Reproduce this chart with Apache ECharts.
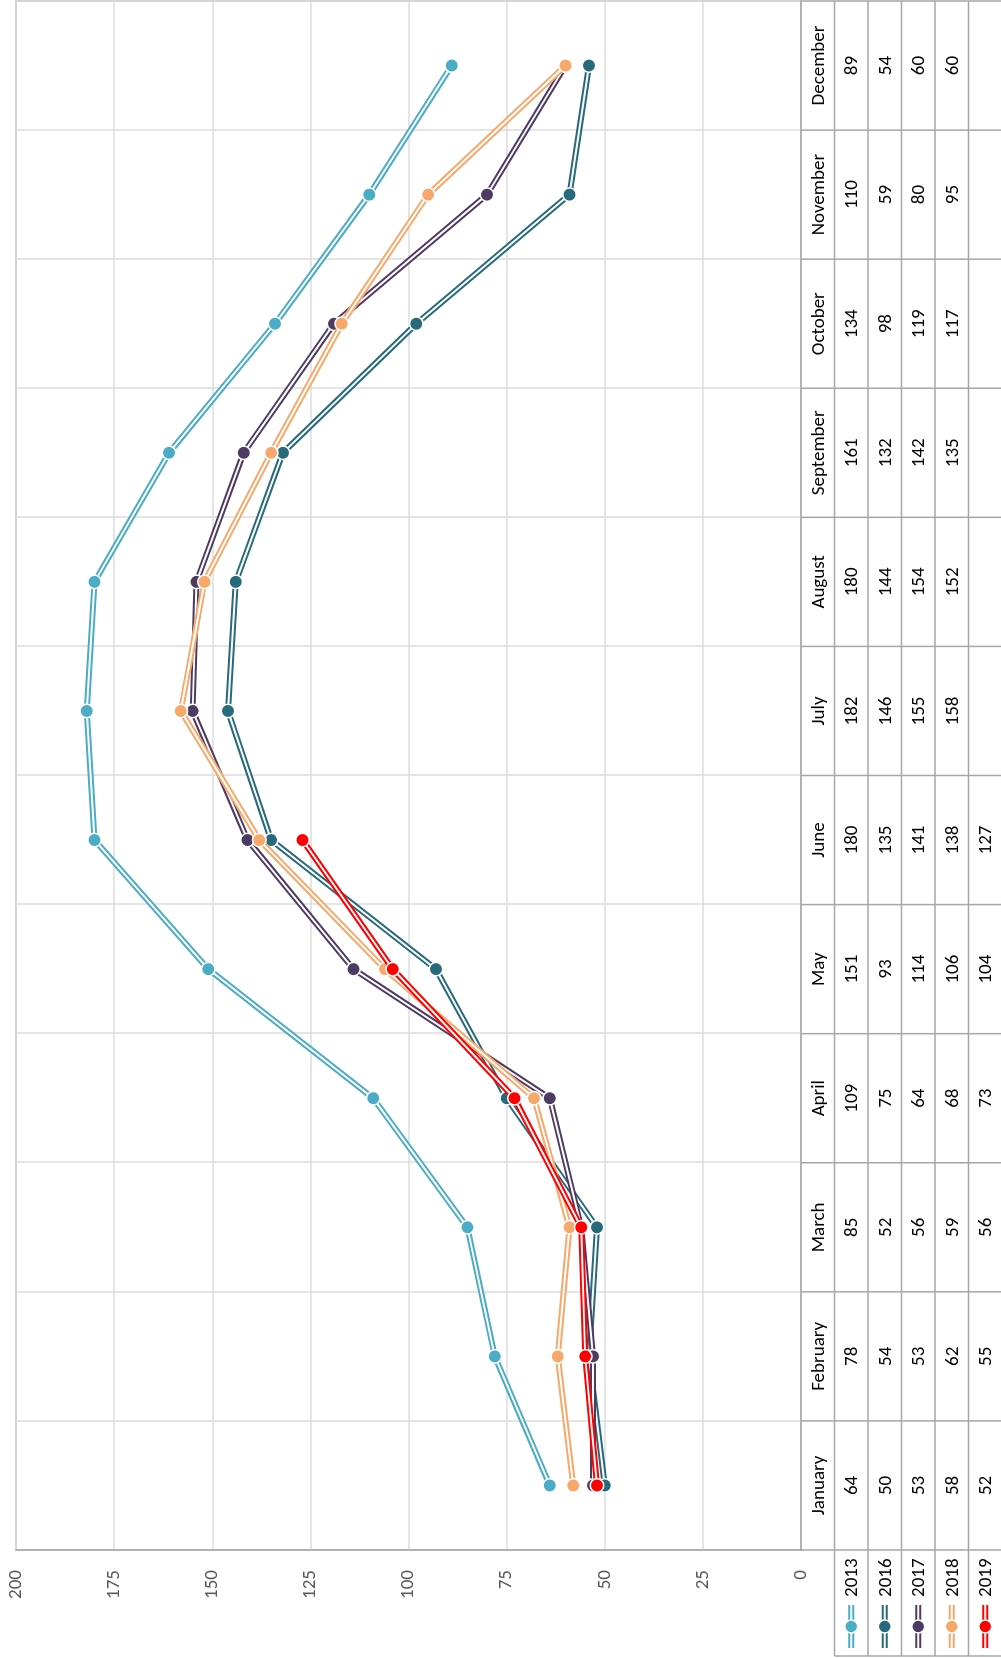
<!DOCTYPE html>
<html><head><meta charset="utf-8">
<script src="https://cdn.jsdelivr.net/npm/echarts@6/dist/echarts.min.js"></script>
<style>
html,body{margin:0;padding:0;overflow:hidden;background:#fff;width:1001px;height:1658px;}
#wrap{position:absolute;left:0;top:0;width:1658px;height:1001px;transform-origin:0 0;transform:translateY(1658px) rotate(-90deg);}
#chart{width:1658px;height:1001px;}
</style></head>
<body><div id="wrap"><div id="chart"></div></div>
<script>
const months = ['January','February','March','April','May','June','July','August','September','October','November','December'];
const years = ['2013','2016','2017','2018','2019'];
const colors = ['#4BACC6','#276A7C','#4E3B63','#F7A86B','#FF0000'];
const v2013 = [64,78,85,109,151,180,182,180,161,134,110,89];
const v2016 = [50,54,52,75,93,135,146,144,132,98,59,54];
const v2017 = [53,53,56,64,114,141,155,154,142,119,80,60];
const v2018 = [58,62,59,68,106,138,158,152,135,117,95,60];
const v2019 = [52,55,56,73,104,127,null,null,null,null,null,null];
const valueTicks = {min:0, max:200, interval:25};
const allVals = [v2013,v2016,v2017,v2018,v2019];

const FONT = 'Carlito, Lato, "Open Sans", sans-serif';
const chart = echarts.init(document.getElementById('chart'), null, {renderer:'canvas'});

const series = [];
years.forEach((y,i)=>{
  series.push({type:'line', name:y+'_base', data:allVals[i], symbol:'none', showSymbol:false, silent:true,
    lineStyle:{color:colors[i], width:6}, z:10+i*2, animation:false});
  series.push({type:'line', name:y, data:allVals[i], symbol:'circle', symbolSize:13.5, silent:true,
    lineStyle:{color:'#ffffff', width:2}, itemStyle:{color:colors[i], borderColor:'#ffffff', borderWidth:1.5},
    z:11+i*2, animation:false});
});

const GRID = {left:108, right:1, top:16, bottom:200};
chart.setOption({
  animation:false,
  grid:{left:GRID.left, right:GRID.right, top:GRID.top, bottom:GRID.bottom, show:true, borderColor:'#a6a6a6', borderWidth:1.5},
  xAxis:{type:'category', data:months, boundaryGap:true,
    axisLine:{show:true, lineStyle:{color:'#a6a6a6', width:1.5}}, axisTick:{show:false}, axisLabel:{show:false},
    splitLine:{show:true, lineStyle:{color:'#dddddd', width:1.5}}},
  yAxis:{type:'value', min:valueTicks.min, max:valueTicks.max, interval:valueTicks.interval,
    axisLine:{show:true, lineStyle:{color:'#a6a6a6', width:1.5}}, axisTick:{show:false},
    axisLabel:{color:'#595959', fontSize:19, fontFamily:FONT, margin:20},
    splitLine:{show:true, lineStyle:{color:'#dddddd', width:1.5}}},
  series: series
});

// data table below the plot (drawn from the axis scale)
const W = 1658, H = 1001;
const plotBottom = H - GRID.bottom;
const plotRight = W - GRID.right;
const rowH = 33.5;
const x0 = chart.convertToPixel({xAxisIndex:0}, 0);
const x1 = chart.convertToPixel({xAxisIndex:0}, 1);
const band = x1 - x0;
const lineCol = '#a6a6a6';
const g = [];
for (let k=0;k<=months.length;k++){
  const x = x0 - band/2 + k*band;
  g.push({type:'line', shape:{x1:x,y1:plotBottom,x2:x,y2:H+2}, style:{stroke:lineCol, lineWidth:1.5}, silent:true});
}
for (let r=1;r<=years.length+1;r++){
  const y = plotBottom + r*rowH;
  g.push({type:'line', shape:{x1:2,y1:y,x2:plotRight,y2:y}, style:{stroke:lineCol, lineWidth:1.5}, silent:true});
}
g.push({type:'line', shape:{x1:2,y1:plotBottom+rowH,x2:2,y2:H+2}, style:{stroke:lineCol, lineWidth:1.5}, silent:true});
months.forEach((m,i)=>{
  const cx = chart.convertToPixel({xAxisIndex:0}, i);
  g.push({type:'text', silent:true, style:{text:m, x:cx, y:plotBottom+rowH/2+1, fill:'#000', fontSize:19, fontFamily:FONT, align:'center', verticalAlign:'middle'}});
});
years.forEach((yr,r)=>{
  const cy = plotBottom + (r+1)*rowH + rowH/2;
  allVals[r].forEach((v,i)=>{
    if (v===null) return;
    const cx = chart.convertToPixel({xAxisIndex:0}, i);
    g.push({type:'text', silent:true, style:{text:String(v), x:cx, y:cy+1, fill:'#000', fontSize:19, fontFamily:FONT, align:'center', verticalAlign:'middle'}});
  });
  g.push({type:'line', silent:true, shape:{x1:10,y1:cy,x2:53,y2:cy}, style:{stroke:colors[r], lineWidth:6}});
  g.push({type:'line', silent:true, shape:{x1:10,y1:cy,x2:53,y2:cy}, style:{stroke:'#fff', lineWidth:2}});
  g.push({type:'circle', silent:true, shape:{cx:31.5,cy:cy,r:6.5}, style:{fill:colors[r], stroke:'#fff', lineWidth:1.5}});
  g.push({type:'text', silent:true, style:{text:yr, x:61, y:cy+1, fill:'#000', fontSize:19, fontFamily:FONT, align:'left', verticalAlign:'middle'}});
});
chart.setOption({graphic:{elements:g}});
</script>
</body></html>
